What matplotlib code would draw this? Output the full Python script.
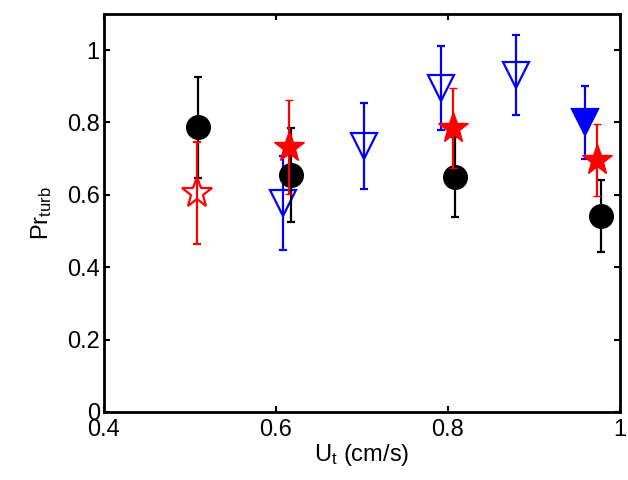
import matplotlib
matplotlib.use("Agg")
import matplotlib.pyplot as plt

plt.rcParams['font.family'] = ['Liberation Sans', 'DejaVu Sans']
plt.rcParams['mathtext.default'] = 'regular'

# Black circles
x_circ = [0.509, 0.617, 0.808, 0.978]
y_circ = [0.787, 0.655, 0.649, 0.541]
e_circ = [0.14, 0.13, 0.11, 0.10]

# Red stars (first one open)
x_star = [0.508, 0.615, 0.806, 0.973]
y_star = [0.605, 0.732, 0.785, 0.696]
e_star = [0.14, 0.13, 0.11, 0.10]

# Blue down triangles (last one filled)
x_tri = [0.608, 0.702, 0.792, 0.879, 0.959]
y_tri = [0.577, 0.735, 0.895, 0.931, 0.800]
e_tri = [0.13, 0.12, 0.115, 0.11, 0.10]

xticks = [0.4, 0.6, 0.8, 1.0]
xticklabels = ["0.4", "0.6", "0.8", "1"]
yticks = [0, 0.2, 0.4, 0.6, 0.8, 1.0]
yticklabels = ["0", "0.2", "0.4", "0.6", "0.8", "1"]

fig = plt.figure(figsize=(6.28, 4.8), dpi=100)
ax = fig.add_axes([0.1656, 0.1417, 0.8214, 0.8293])

lw = 1.6
cs = 2.8
# blue triangles
for i, (x, y, e) in enumerate(zip(x_tri, y_tri, e_tri)):
    filled = (i == len(x_tri) - 1)
    ax.errorbar(x, y, yerr=e, fmt='v', color='blue', ms=19,
                mfc='blue' if filled else 'none', mec='blue', mew=lw,
                elinewidth=lw, capsize=cs, capthick=lw, zorder=2)
# black circles
ax.errorbar(x_circ, y_circ, yerr=e_circ, fmt='o', color='black', ms=17,
            mfc='black', mec='black', elinewidth=lw, capsize=cs, capthick=lw, zorder=3)
# red stars
for i, (x, y, e) in enumerate(zip(x_star, y_star, e_star)):
    open_ = (i == 0)
    ax.errorbar(x, y, yerr=e, fmt='*', color='red', ms=23,
                mfc='none' if open_ else 'red', mec='red', mew=lw if open_ else 1,
                elinewidth=lw, capsize=cs, capthick=lw, zorder=4)

ax.set_xlim(0.4, 1.0)
ax.set_ylim(0, 1.1)
ax.set_xticks(xticks)
ax.set_xticklabels(xticklabels)
ax.set_yticks(yticks)
ax.set_yticklabels(yticklabels)
ax.tick_params(direction='in', length=4, width=1.5, top=True, right=True,
               labelsize=17)
ax.tick_params(axis='x', pad=5)
ax.tick_params(axis='y', pad=3)
for s in ax.spines.values():
    s.set_linewidth(2)
ax.set_xlabel("U$_t$ (cm/s)", fontsize=17, labelpad=1)
ax.set_ylabel("Pr$_{turb}$", fontsize=17, labelpad=9)

fig.savefig("out.png", dpi=100)
